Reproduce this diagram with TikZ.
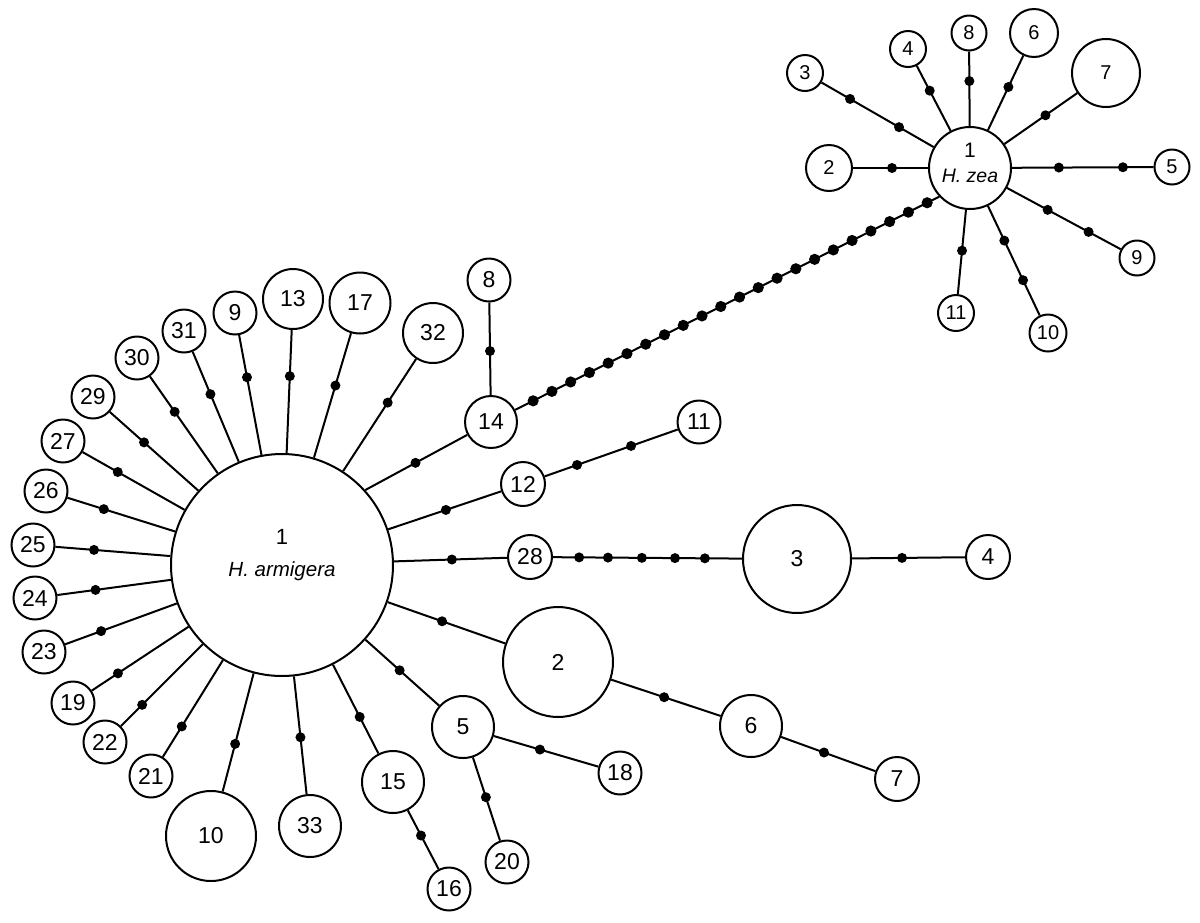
\documentclass[tikz,border=0pt]{standalone}
\usepackage{fontspec}
\setmainfont{Liberation Sans}
\usetikzlibrary{calc}

\begin{document}
\begin{tikzpicture}[x=1pt,y=-1pt,
    hap/.style={draw,circle,line width=2pt,inner sep=0pt,minimum size=#1,font=\fontsize{23}{23}\selectfont},
    zhap/.style={hap=#1,font=\fontsize{20}{20}\selectfont},
    link/.style={line width=2pt}]
    \useasboundingbox (0,0) rectangle (1200,922);
    \node[hap=222,font=\fontsize{20.5}{32}\selectfont,align=center,text depth=24pt] (ha) at (282,565) {{\fontsize{22}{22}\selectfont 1}\\\textit{H. armigera}};
    \node[hap=60] (a13) at (293,299) {13};
    \node[hap=61] (a17) at (360,303) {17};
    \node[hap=43] (a9) at (235,313) {9};
    \node[hap=43] (a31) at (184,331) {31};
    \node[hap=43] (a30) at (137,358) {30};
    \node[hap=43] (a29) at (93,397) {29};
    \node[hap=43] (a27) at (63,441) {27};
    \node[hap=43] (a26) at (46,491) {26};
    \node[hap=43] (a25) at (33,545) {25};
    \node[hap=43] (a24) at (35,598) {24};
    \node[hap=43] (a23) at (44,652) {23};
    \node[hap=43] (a19) at (73,703) {19};
    \node[hap=43] (a22) at (105,742) {22};
    \node[hap=43] (a21) at (151,776) {21};
    \node[hap=90] (a10) at (211,836) {10};
    \node[hap=62] (a33) at (310,826) {33};
    \node[hap=62] (a15) at (393,782) {15};
    \node[hap=43] (a16) at (449,889) {16};
    \node[hap=62] (a5) at (463,727) {5};
    \node[hap=43] (a20) at (507,862) {20};
    \node[hap=43] (a18) at (620,773) {18};
    \node[hap=60] (a32) at (433,333) {32};
    \node[hap=43] (a8) at (489,280) {8};
    \node[hap=52] (a14) at (491,422) {14};
    \node[hap=44] (a12) at (523,484) {12};
    \node[hap=43] (a11) at (699,422) {11};
    \node[hap=44] (a28) at (530,557) {28};
    \node[hap=108] (a3) at (797,559) {3};
    \node[hap=44] (a4) at (988,557) {4};
    \node[hap=110] (a2) at (558,662) {2};
    \node[hap=62] (a6) at (751,726) {6};
    \node[hap=44] (a7) at (897,779) {7};
    \node[hap=82,font=\fontsize{19.5}{25}\selectfont,align=center,text depth=10pt] (hz) at (970,168) {{\fontsize{21}{21}\selectfont 1}\\\textit{H. zea}};
    \node[zhap=36] (z3) at (805,73) {3};
    \node[zhap=36] (z4) at (908,49) {4};
    \node[zhap=35] (z8) at (969,33) {8};
    \node[zhap=48] (z6) at (1034,33) {6};
    \node[zhap=68] (z7) at (1106,73) {7};
    \node[zhap=46] (z2) at (829,168) {2};
    \node[zhap=35] (z5) at (1172,167) {5};
    \node[zhap=35] (z9) at (1137,258) {9};
    \node[zhap=37] (z10) at (1048,333) {10};
    \node[zhap=36] (z11) at (956,313) {11};
    \foreach \a/\b/\ts in {ha/a13/0.71, ha/a17/0.685, ha/a9/0.745, ha/a31/0.73, ha/a30/0.74,
        ha/a29/0.73, ha/a27/0.75, ha/a26/0.755, ha/a25/0.755, ha/a24/0.755, ha/a23/0.76,
        ha/a19/0.785, ha/a22/0.79, ha/a21/0.765, ha/a10/0.66, ha/a33/0.66, ha/a15/0.70,
        ha/a5/0.65, ha/a32/0.70, ha/a12/0.68, ha/a28/0.685, ha/a2/0.58, ha.42/a14/0.4,
        a14/a8/0.5, a15/a16/0.5, a5/a20/0.52, a5/a18/0.49, a3/a4/0.55, a2/a6/0.55, a6/a7/0.5,
        a12/a11/{0.307,0.614}, a28/a3/{0.184,0.292,0.419,0.543,0.655},
        hz/z3/{0.43,0.727}, hz/z4/0.65, hz/z8/0.644, hz/z6/0.6, hz/z7/0.555, hz/z2/0.553,
        hz/z5/{0.44,0.757}, hz/z9/{0.465,0.71}, hz/z10/{0.44,0.68}, hz/z11/0.57}
    {
        \draw[link] (\a) -- (\b);
        \foreach \t in \ts
            \fill ($(\a)!\t!(\b)$) circle[radius=5pt];
    }
    \draw[link] (a14) -- (hz.223);
    \foreach \k in {0,...,21}
        \fill ($(a14)!{0.094+0.04186*\k}!(hz.223)$) circle[radius=5.6pt];
\end{tikzpicture}
\end{document}
